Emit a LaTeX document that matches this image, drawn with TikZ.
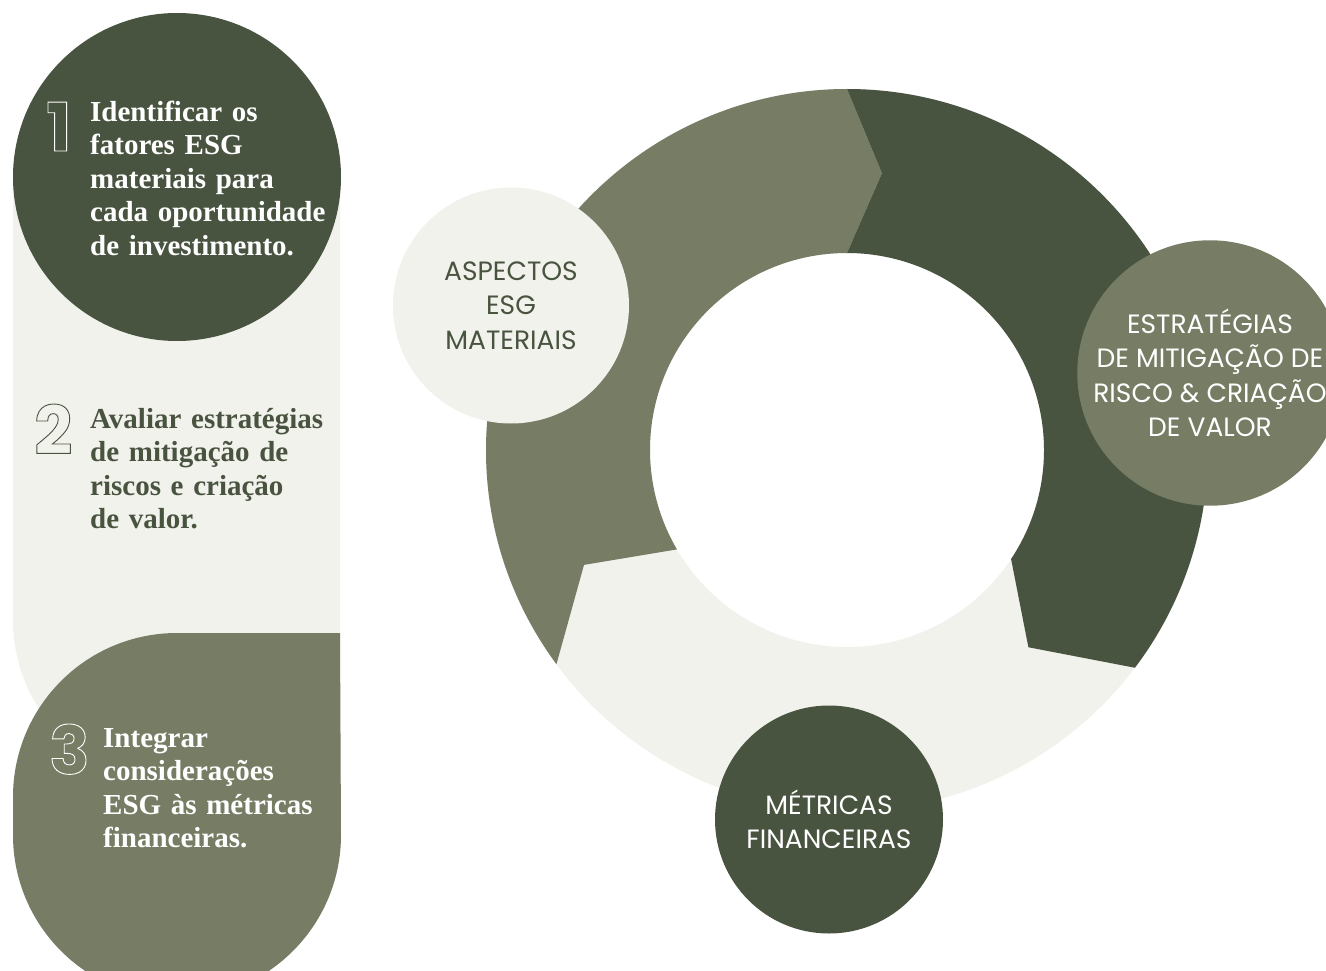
\documentclass[tikz,border=0pt]{standalone}
\usepackage{fontspec}
\setmainfont{Liberation Serif}
\newfontfamily\ringfont{Poppins}
\definecolor{esgdark}{RGB}{72,84,64}
\definecolor{esgmid}{RGB}{118,125,100}
\definecolor{esglight}{RGB}{242,242,236}
\newcommand\outlinetext[1]{\special{pdf:literal direct 1 Tr 0.9 w}#1\special{pdf:literal direct 0 Tr}}
\begin{document}
\begin{tikzpicture}[x=1pt,y=-1pt,
  stepnum/.style={anchor=base west, inner sep=0, font=\ringfont\bfseries\fontsize{67}{67}\selectfont},
  steptext/.style={anchor=base west, inner sep=0, text width=270pt, align=left, font=\bfseries\fontsize{29}{33.5}\selectfont},
  ringlabel/.style={circle, inner sep=0, align=center, font=\ringfont\fontsize{26.5}{34.5}\selectfont}]
\useasboundingbox (0,0) rectangle (1326,971);
\fill[white] (0,0) rectangle (1326,971);

% left panel
\fill[esglight] (13,177) -- (340,177) -- (340,784) -- (177,784)
  arc[start angle=90, end angle=180, radius=164] -- cycle;
\node[circle, fill=esgdark, minimum size=328, inner sep=0] (c1) at (177,177) {};
\fill[esgmid] (340,633) -- (177,633) arc[start angle=270, end angle=180, radius=164]
  -- (13,835) arc[start angle=180, end angle=0, radius=164] -- cycle;

\node[stepnum, text=white] (n1) at (46,151) {\outlinetext{1}};
\node[steptext, text=white] (t1) at (90,121.5) {Identificar os\\fatores ESG\\materiais para\\cada oportunidade\\de investimento.};
\node[stepnum, text=esgdark] (n2) at (34,454) {\outlinetext{2}};
\node[steptext, text=esgdark] (t2) at (90,428) {Avaliar estratégias\\de mitigação de\\riscos e criação\\de valor.};
\node[stepnum, text=white] (n3) at (49,774) {\outlinetext{3}};
\node[steptext, text=white] (t3) at (103,747) {Integrar\\considerações\\ESG às métricas\\financeiras.};

% ring
\begin{scope}[shift={(847,450)}]
  \fill[esglight, even odd rule] (0,0) circle[radius=361] (0,0) circle[radius=197];
  \fill[esgmid] (143.6:361) arc[start angle=143.6, end angle=270, radius=361]
    -- (277.2:279) -- (270:197) arc[start angle=270, end angle=149.7, radius=197]
    -- (156.4:287) -- cycle;
  \fill[esgdark] (270:361) arc[start angle=270, end angle=397.1, radius=361]
    -- (407.4:268) -- (393.6:197) arc[start angle=393.6, end angle=270, radius=197]
    -- (277.2:279) -- cycle;
\end{scope}

\node[ringlabel, fill=esglight, minimum size=236, text=esgdark] (aspectos) at (511,305.5) {ASPECTOS\\ESG\\MATERIAIS};
\node[ringlabel, fill=esgmid, minimum size=260, text=white] (estrat) at (1210,373) {ESTRATÉGIAS\\DE MITIGAÇÃO DE\\RISCO \& CRIAÇÃO\\DE VALOR};
\node[ringlabel, fill=esgdark, minimum size=228, text=white] (metricas) at (829,819.5) {MÉTRICAS\\FINANCEIRAS};
\end{tikzpicture}
\end{document}
